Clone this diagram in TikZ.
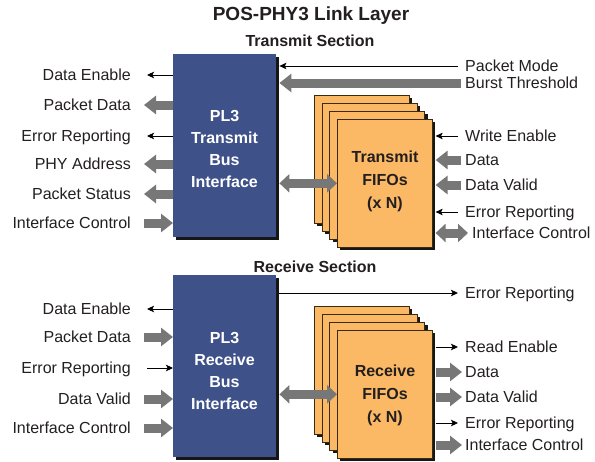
\documentclass[tikz,border=0pt]{standalone}
\usepackage{fontspec}
\setmainfont{Liberation Sans}
\usetikzlibrary{arrows.meta,shadows}

\definecolor{busblue}{HTML}{3E5189}
\definecolor{fifoorange}{HTML}{FBB865}
\definecolor{fifoedge}{HTML}{3A2A12}
\definecolor{arrowgray}{HTML}{777777}
\definecolor{shadowc}{HTML}{161616}
\definecolor{labelc}{HTML}{231F20}

\tikzset{
  lbl/.style={font=\fontsize{16}{18}\selectfont, text=labelc, inner sep=0pt,
              text height=11.4pt, text depth=0pt},
  lblL/.style={lbl, anchor=east},
  lblR/.style={lbl, anchor=west},
  heading/.style={font=\bfseries\fontsize{16}{19}\selectfont, text=labelc, inner sep=0pt},
  sigline/.style={draw=black, line width=0.9pt, -{Stealth[length=7pt,width=6.5pt,inset=1.5pt]}},
  busline/.style={draw=arrowgray, line width=9pt, -{Triangle[length=12pt,width=18pt]}},
  busboth/.style={draw=arrowgray, line width=9pt,
                  {Triangle[length=10pt,width=18pt]}-{Triangle[length=10pt,width=18pt]}},
  boxshadow/.style={general shadow={fill=shadowc, shadow xshift=3pt, shadow yshift=-3pt}},
  busbox/.style={boxshadow, fill=busblue, draw=none, anchor=north west, inner sep=0pt,
                 minimum width=103pt, minimum height=183pt},
  bustext/.style={text=white, font=\bfseries\fontsize{16}{22}\selectfont, align=center, inner sep=0pt},
  fifobox/.style={boxshadow, fill=fifoorange, draw=fifoedge, line width=0.6pt, anchor=north west,
                  inner sep=0pt, minimum width=95pt, minimum height=128pt},
  fifotext/.style={text=labelc, font=\bfseries\fontsize{16}{23}\selectfont, align=center, inner sep=0pt},
}

\begin{document}
\begin{tikzpicture}[x=1pt,y=-1pt]
\useasboundingbox (0,0) rectangle (595,461);

% headings
\node[heading, font=\bfseries\fontsize{19}{22}\selectfont] (title) at (311,16) {POS-PHY3 Link Layer};
\node[heading] (txhead) at (310,41) {Transmit Section};
\node[heading] (rxhead) at (315,267) {Receive Section};

% ---------------- transmit section ----------------
\node[busbox] (txbus) at (173,54) {};
\node[bustext] (txbustext) at (224.5,149) {PL3\\Transmit\\Bus\\Interface};
\coordinate (txedge) at ([xshift=3pt]txbus.east);

\node[fifobox] (tf3) at (314,95) {};
\node[fifobox] (tf2) at (321.7,103) {};
\node[fifobox] (tf1) at (329.3,111) {};
\node[fifobox] (tf) at (337,119) {};
\node[fifotext] (tftext) at (385,181) {Transmit\\FIFOs\\(x N)};
\coordinate (tfedge) at ([xshift=3pt]tf.east);

% left-hand signals
\node[lblL] (tde) at (131,75) {Data Enable};
\node[lblL] (tpd) at (131,105) {Packet Data};
\node[lblL] (ter) at (131,136) {Error Reporting};
\node[lblL] (tpa) at (131,164) {PHY Address};
\node[lblL] (tps) at (131,194) {Packet Status};
\node[lblL] (tic) at (131,223) {Interface Control};

\draw[sigline] (txbus.west |- tde) -- ([xshift=16pt]tde.east);
\draw[busline] (txbus.west |- tpd) -- ([xshift=13pt]tpd.east);
\draw[sigline] (txbus.west |- ter) -- ([xshift=16pt]ter.east);
\draw[busline] (txbus.west |- tpa) -- ([xshift=13pt]tpa.east);
\draw[busline] (txbus.west |- tps) -- ([xshift=13pt]tps.east);
\draw[busline] ([xshift=13pt]tic.east) -- (txbus.west |- tic);

% right-hand signals
\node[lblR] (tpm) at (465,66) {Packet Mode};
\node[lblR] (tbt) at (465,83) {Burst Threshold};
\node[lblR] (twe) at (465,136) {Write Enable};
\node[lblR] (tda) at (465,160) {Data};
\node[lblR] (tdv) at (465,185) {Data Valid};
\node[lblR] (tfer) at (465,212) {Error Reporting};
\node[lblR] (tfic) at (472,233) {Interface Control};

\draw[sigline] ([xshift=-7pt]tpm.west) -- (txedge |- tpm);
\draw[busline] ([xshift=-4pt]tbt.west) -- (txedge |- tbt);
\draw[sigline] ([xshift=-7pt]twe.west) -- (tfedge |- twe);
\draw[busline] ([xshift=-4pt]tda.west) -- (tfedge |- tda);
\draw[busline] ([xshift=-4pt]tdv.west) -- (tfedge |- tdv);
\draw[sigline] ([xshift=-7pt]tfer.west) -- (tfedge |- tfer);
\draw[busboth] (tfedge |- tfic) -- ([xshift=-4pt]tfic.west);

\draw[busboth] (txedge |- tf.west) -- (tf.west);

% ---------------- receive section ----------------
\node[busbox, minimum height=182pt] (rxbus) at (173,275) {};
\node[bustext] (rxbustext) at (224.5,370.5) {PL3\\Receive\\Bus\\Interface};
\coordinate (rxedge) at ([xshift=3pt]rxbus.east);

\node[fifobox] (rf3) at (314,306) {};
\node[fifobox] (rf2) at (321.7,314) {};
\node[fifobox] (rf1) at (329.3,322) {};
\node[fifobox] (rf) at (337,330) {};
\node[fifotext] (rftext) at (385,395) {Receive\\FIFOs\\(x N)};
\coordinate (rfedge) at ([xshift=3pt]rf.east);

% left-hand signals
\node[lblL] (rde) at (131,309) {Data Enable};
\node[lblL] (rpd) at (131,337) {Packet Data};
\node[lblL] (rer) at (131,368) {Error Reporting};
\node[lblL] (rdv) at (131,399) {Data Valid};
\node[lblL] (ric) at (131,428) {Interface Control};

\draw[sigline] (rxbus.west |- rde) -- ([xshift=16pt]rde.east);
\draw[busline] ([xshift=13pt]rpd.east) -- (rxbus.west |- rpd);
\draw[sigline] ([xshift=16pt]rer.east) -- (rxbus.west |- rer);
\draw[busline] ([xshift=13pt]rdv.east) -- (rxbus.west |- rdv);
\draw[busline] ([xshift=13pt]ric.east) -- (rxbus.west |- ric);

% right-hand signals
\node[lblR] (rber) at (465,293) {Error Reporting};
\node[lblR] (rre) at (465,347) {Read Enable};
\node[lblR] (rda) at (465,372) {Data};
\node[lblR] (rdva) at (465,397) {Data Valid};
\node[lblR] (rfer) at (465,423) {Error Reporting};
\node[lblR] (rfic) at (465,445) {Interface Control};

\draw[sigline] (rxedge |- rber) -- ([xshift=-7pt]rber.west);
\draw[sigline] (rfedge |- rre) -- ([xshift=-7pt]rre.west);
\draw[busline] (rfedge |- rda) -- ([xshift=-3pt]rda.west);
\draw[busline] (rfedge |- rdva) -- ([xshift=-3pt]rdva.west);
\draw[sigline] (rfedge |- rfer) -- ([xshift=-7pt]rfer.west);
\draw[busline] (rfedge |- rfic) -- ([xshift=-3pt]rfic.west);

\draw[busboth] (rxedge |- rf.west) -- (rf.west);

\end{tikzpicture}
\end{document}
